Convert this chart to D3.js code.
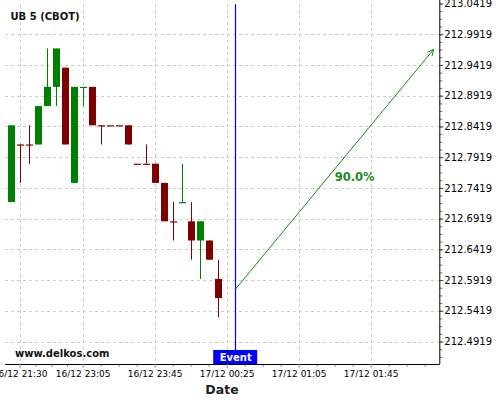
<!DOCTYPE html>
<html>
<head>
<meta charset="utf-8">
<script src="https://cdn.jsdelivr.net/npm/d3@7/dist/d3.min.js"></script>
<style>
  html, body { margin: 0; padding: 0; background: #fff; }
  svg { display: block; font-family: "DejaVu Sans", sans-serif; }
</style>
</head>
<body>
<svg id="chart" width="500" height="400"></svg>
<script>
// ---- data ----
const title = "UB 5 (CBOT)";
const candleTimes = ["16/12 21:25","16/12 21:30","16/12 21:35","16/12 21:40","16/12 21:45","16/12 21:50","16/12 21:55","16/12 22:00",
  "16/12 23:05","16/12 23:10","16/12 23:15","16/12 23:20","16/12 23:25","16/12 23:30","16/12 23:35","16/12 23:40",
  "16/12 23:45","16/12 23:50","16/12 23:55","17/12 00:00","17/12 00:05","17/12 00:10","17/12 00:15","17/12 00:20"];
const openV  = [212.71875,212.8125,212.8125,212.8125,212.875,212.90625,212.9375,212.75,
  212.90625,212.90625,212.84375,212.84375,212.84375,212.84375,212.78125,212.78125,
  212.78125,212.75,212.6875,212.71875,212.6875,212.65625,212.65625,212.59375];
const highV  = [212.84375,212.8125,212.84375,212.875,212.96875,212.96875,212.9375,212.90625,
  212.90625,212.90625,212.84375,212.84375,212.84375,212.84375,212.78125,212.8125,
  212.78125,212.75,212.71875,212.78125,212.71875,212.6875,212.65625,212.625];
const lowV   = [212.71875,212.75,212.78125,212.8125,212.875,212.875,212.8125,212.75,
  212.875,212.84375,212.8125,212.84375,212.84375,212.8125,212.78125,212.78125,
  212.75,212.6875,212.65625,212.71875,212.625,212.59375,212.625,212.53125];
const closeV = [212.84375,212.8125,212.8125,212.875,212.90625,212.96875,212.8125,212.90625,
  212.90625,212.84375,212.84375,212.84375,212.84375,212.8125,212.78125,212.78125,
  212.75,212.6875,212.6875,212.71875,212.65625,212.6875,212.625,212.5625];
const candleDir = ["up","down","down","up","up","up","down","up",
  "up","down","down","down","down","down","down","down",
  "down","down","down","up","down","up","down","down"];
const xTickIndex  = [1, 8, 16, 24, 32, 40];
const xTickLabels = ["16/12 21:30","16/12 23:05","16/12 23:45","17/12 00:25","17/12 01:05","17/12 01:45"];
const yTickValues = [212.4919,212.5419,212.5919,212.6419,212.6919,212.7419,212.7919,212.8419,212.8919,212.9419,212.9919,213.0419];
const eventIndex = 25;
const eventLabel = "Event";
const arrowFrom = {index: 25, value: 212.5775};
const arrowTo   = {index: 47, value: 212.9674};
const probabilityLabel = "90.0%";
const watermark = "www.delkos.com";
const xAxisTitle = "Date";

(function () {
// ---- layout ----
const pLeft = 5, pRight = 439.3, pTop = 3.5, pBottom = 364;
const svg = d3.select("#chart");
const x = d3.scaleLinear().domain([-0.633, 47.622]).range([pLeft, pRight]);
const y = d3.scaleLinear().domain([212.45529, 213.0419]).range([pBottom, pTop]);
const green = "#008000", red = "#800000";

// grid
const grid = svg.append("g").attr("stroke", "#cccccc").attr("stroke-dasharray", "3,3").attr("stroke-width", 1);
grid.selectAll("line.h").data(yTickValues.filter(v => y(v) > pTop + 1)).join("line")
  .attr("x1", pLeft).attr("x2", pRight).attr("y1", d => Math.round(y(d)) + 0.5).attr("y2", d => Math.round(y(d)) + 0.5);
grid.selectAll("line.v").data(xTickIndex).join("line")
  .attr("x1", d => Math.round(x(d)) + 0.5).attr("x2", d => Math.round(x(d)) + 0.5).attr("y1", 4).attr("y2", pBottom);

// candles
const idx = d3.range(candleTimes.length);
const cg = svg.append("g");
cg.selectAll("line.wick").data(idx).join("line")
  .attr("x1", i => Math.round(x(i)) + 0.5).attr("x2", i => Math.round(x(i)) + 0.5)
  .attr("y1", i => y(highV[i])).attr("y2", i => y(lowV[i]))
  .attr("stroke", i => candleDir[i] === "up" ? green : red).attr("stroke-width", 1);
cg.selectAll("rect.body").data(idx).join("rect")
  .attr("x", i => Math.round(x(i)) - 3).attr("width", 7)
  .attr("y", i => y(Math.max(openV[i], closeV[i])))
  .attr("height", i => Math.max(1.2, Math.abs(y(openV[i]) - y(closeV[i]))))
  .attr("fill", i => candleDir[i] === "up" ? green : red);

// event line
const exLine = Math.floor(x(eventIndex)) + 0.5;
svg.append("line")
  .attr("x1", exLine).attr("x2", exLine).attr("y1", 4.3).attr("y2", 350)
  .attr("stroke", "#0000ff").attr("stroke-width", 1.2);

// arrow
const ax1 = x(arrowFrom.index), ay1 = y(arrowFrom.value), ax2 = x(arrowTo.index), ay2 = y(arrowTo.value);
const arrowG = svg.append("g").attr("stroke", "#1a8a1a").attr("stroke-width", 1).attr("fill", "none");
arrowG.append("line").attr("x1", ax1).attr("y1", ay1).attr("x2", ax2).attr("y2", ay2);
const ang = Math.atan2(ay2 - ay1, ax2 - ax1), hl = 7, ha = Math.PI / 7;
arrowG.append("path").attr("d",
  `M${ax2 - hl*Math.cos(ang - ha)},${ay2 - hl*Math.sin(ang - ha)}L${ax2},${ay2}L${ax2 - hl*Math.cos(ang + ha)},${ay2 - hl*Math.sin(ang + ha)}`);
svg.append("text").attr("x", (ax1 + ax2) / 2).attr("y", (ay1 + ay2) / 2 + 11.5)
  .attr("font-size", 11.5).attr("font-weight", "bold").attr("fill", "#1a8a1a").text(probabilityLabel);

// right axis
const yMinor = d3.range(0, 48).map(k => 212.4919 - 0.025 + k * 0.0125).filter(v => y(v) < pBottom && y(v) > pTop);
const yMinorAxis = svg.append("g").attr("transform", `translate(${pRight},0)`)
  .call(d3.axisRight(y).tickValues(yMinor).tickSize(3).tickFormat(""));
yMinorAxis.select(".domain").remove();
yMinorAxis.selectAll("line").attr("stroke", "#777");
const yAxis = svg.append("g").attr("transform", `translate(${pRight},0)`)
  .call(d3.axisRight(y).tickValues(yTickValues).tickSize(4).tickSizeOuter(0).tickPadding(1).tickFormat(d => d.toFixed(4)));
yAxis.select(".domain").attr("d", `M0.5,0V${pBottom}`).attr("stroke", "#000");
yAxis.selectAll("line").attr("stroke", "#444");
yAxis.selectAll("text").attr("font-size", 10).attr("font-family", "DejaVu Sans").attr("fill", "#000");

// bottom axis
const xMinor = [];
for (let k = 0; k < xTickIndex.length - 1; k++) {
  for (let m = 1; m < 4; m++) xMinor.push(xTickIndex[k] + (xTickIndex[k+1] - xTickIndex[k]) * m / 4);
}
const lastTick = xTickIndex[xTickIndex.length-1];
xMinor.push(lastTick + 2, lastTick + 4, lastTick + 6);
const xMinorAxis = svg.append("g").attr("transform", `translate(0,${pBottom})`)
  .call(d3.axisBottom(x).tickValues(xMinor).tickSize(3).tickFormat(""));
xMinorAxis.select(".domain").remove();
xMinorAxis.selectAll("line").attr("stroke", "#999");
const xAxis = svg.append("g").attr("transform", `translate(0,${pBottom})`)
  .call(d3.axisBottom(x).tickValues(xTickIndex).tickSize(4).tickSizeOuter(0).tickPadding(3)
    .tickFormat((d, i) => xTickLabels[i]));
xAxis.select(".domain").attr("d", `M${pLeft},0.5H${pRight + 0.5}`).attr("stroke", "#000");
xAxis.selectAll("line").attr("stroke", "#999");
xAxis.selectAll("text").attr("font-size", 9).attr("font-family", "DejaVu Sans").attr("fill", "#000");

// event label box
const ex = x(eventIndex);
svg.append("rect").attr("x", ex - 22.5).attr("y", 350).attr("width", 44).attr("height", 14).attr("fill", "#0000ff");
svg.append("text").attr("x", ex).attr("y", 360.7).attr("text-anchor", "middle")
  .attr("font-size", 10).attr("font-weight", "bold").attr("fill", "#fff").text(eventLabel);

// texts
svg.append("text").attr("x", 10.5).attr("y", 19.8).attr("font-size", 10).attr("font-weight", "bold").attr("fill", "#111").text(title);
svg.append("text").attr("x", 15).attr("y", 357.3).attr("font-size", 10).attr("font-weight", "bold").attr("fill", "#111").text(watermark);
svg.append("text").attr("x", 222).attr("y", 393.5).attr("text-anchor", "middle").attr("font-size", 12.5).attr("font-weight", "bold").attr("fill", "#222").text(xAxisTitle);
})();
</script>
</body>
</html>
